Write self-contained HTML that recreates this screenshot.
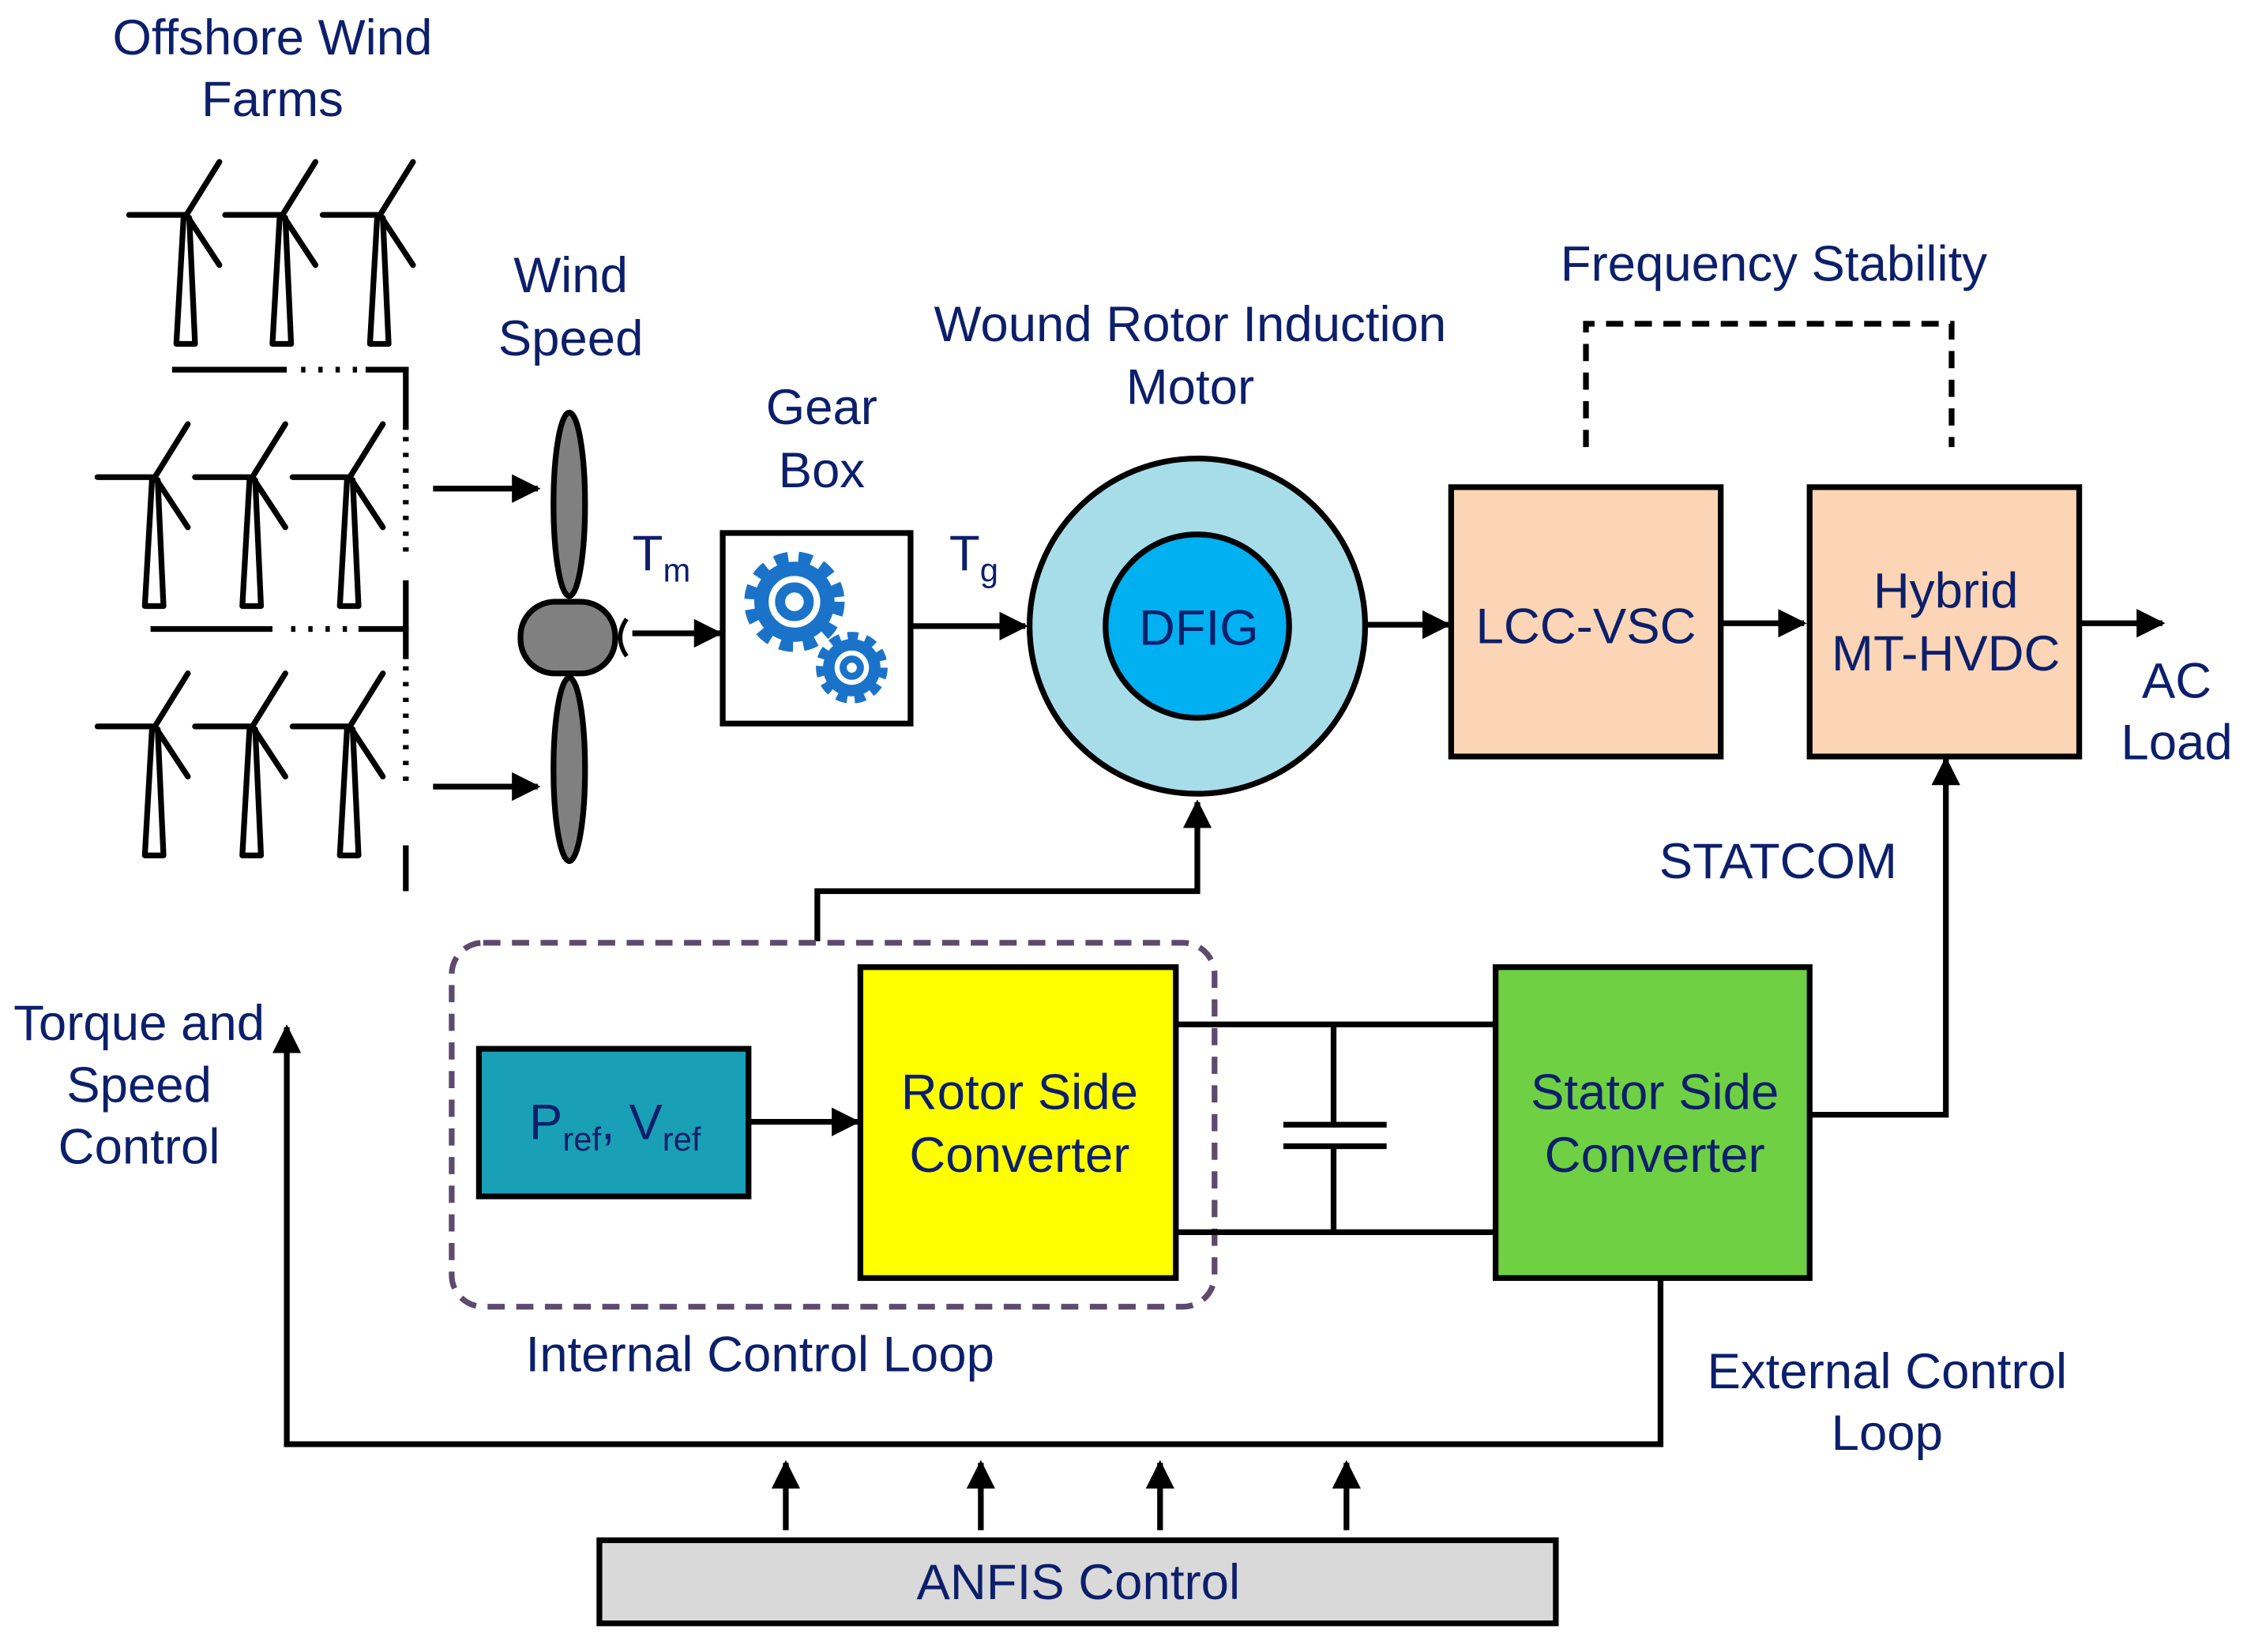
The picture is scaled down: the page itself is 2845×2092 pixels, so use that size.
<!DOCTYPE html>
<html><head><meta charset="utf-8"><style>
html,body{margin:0;padding:0;background:#fff;}
svg{display:block;}
text{font-family:"Liberation Sans",Arial,sans-serif;fill:#0c1f6b;}
</style></head><body>
<svg width="2845" height="2092" viewBox="0 0 1567 1153" preserveAspectRatio="none" xmlns="http://www.w3.org/2000/svg">
<defs>
<marker id="ar" viewBox="0 0 10 10" refX="9" refY="5" markerWidth="5" markerHeight="5" orient="auto-start-reverse"><path d="M0,0L10,5L0,10z" fill="#000"/></marker>
<g id="tb" stroke="#000" stroke-width="4" fill="none" stroke-linecap="round" stroke-linejoin="round">
<line x1="0" y1="0" x2="23" y2="-37"/><line x1="0" y1="0" x2="-40" y2="0"/><line x1="0" y1="0" x2="23" y2="35"/>
<path d="M-2,2L2,2L6,90L-7,90Z" fill="#fff"/>
</g>
</defs>
<rect width="1567" height="1153" fill="#fff"/>
<use href="#tb" x="130" y="150"/><use href="#tb" x="197" y="150"/><use href="#tb" x="265" y="150"/>
<use href="#tb" x="108" y="333"/><use href="#tb" x="176" y="333"/><use href="#tb" x="244" y="333"/>
<use href="#tb" x="108" y="507"/><use href="#tb" x="176" y="507"/><use href="#tb" x="244" y="507"/>
<g stroke="#000" stroke-width="4" fill="none">
<line x1="120" y1="258" x2="200" y2="258"/><line x1="255" y1="258" x2="285" y2="258"/>
<line x1="210" y1="258" x2="250" y2="258" stroke-dasharray="3,9"/>
<line x1="105" y1="439" x2="190" y2="439"/><line x1="250" y1="439" x2="285" y2="439"/>
<line x1="203" y1="439" x2="243" y2="439" stroke-dasharray="3,9"/>
<line x1="283" y1="256" x2="283" y2="300"/><line x1="283" y1="305" x2="283" y2="385" stroke-dasharray="3,8"/>
<line x1="283" y1="405" x2="283" y2="460"/><line x1="283" y1="465" x2="283" y2="545" stroke-dasharray="3,8"/>
<line x1="283" y1="590" x2="283" y2="622"/>
<line x1="302" y1="341" x2="375" y2="341" marker-end="url(#ar)"/>
<line x1="302" y1="549" x2="375" y2="549" marker-end="url(#ar)"/>
</g>
<g stroke="#000" stroke-width="4" fill="#808080">
<ellipse cx="397" cy="352" rx="11" ry="64"/><ellipse cx="397" cy="537" rx="11" ry="64"/>
<rect x="363" y="420" width="66" height="50" rx="24"/>
</g>
<path d="M437,432 Q428,445 437,458" stroke="#000" stroke-width="3" fill="none"/>
<line x1="441" y1="442" x2="502" y2="442" stroke="#000" stroke-width="4" marker-end="url(#ar)"/>
<rect x="504" y="372" width="131" height="133" fill="#fff" stroke="#000" stroke-width="4"/>
<circle cx="554" cy="420" r="30" fill="none" stroke="#1a73c8" stroke-width="10" stroke-dasharray="9,7"/>
<circle cx="554" cy="420" r="23" fill="none" stroke="#1a73c8" stroke-width="10"/>
<circle cx="554" cy="420" r="10" fill="none" stroke="#1a73c8" stroke-width="7"/>
<circle cx="594" cy="466" r="21" fill="none" stroke="#1a73c8" stroke-width="8" stroke-dasharray="7,5"/>
<circle cx="594" cy="466" r="16" fill="none" stroke="#1a73c8" stroke-width="8"/>
<circle cx="594" cy="466" r="6" fill="none" stroke="#1a73c8" stroke-width="5"/>
<line x1="635" y1="437" x2="715" y2="437" stroke="#000" stroke-width="4" marker-end="url(#ar)"/>
<circle cx="835" cy="437" r="117" fill="#a6dde8" stroke="#000" stroke-width="4"/>
<circle cx="835" cy="437" r="64" fill="#00b0f0" stroke="#000" stroke-width="4"/>
<text x="836" y="450" font-size="35" text-anchor="middle">DFIG</text>
<line x1="953" y1="436" x2="1010" y2="436" stroke="#000" stroke-width="4" marker-end="url(#ar)"/>
<rect x="1012" y="340" width="188" height="188" fill="#fbd5b5" stroke="#000" stroke-width="4"/>
<text x="1106" y="449" font-size="35" text-anchor="middle">LCC-VSC</text>
<line x1="1200" y1="435" x2="1258" y2="435" stroke="#000" stroke-width="4" marker-end="url(#ar)"/>
<rect x="1262" y="340" width="188" height="188" fill="#fbd5b5" stroke="#000" stroke-width="4"/>
<text x="1357" y="424" font-size="35" text-anchor="middle">Hybrid</text>
<text x="1357" y="468" font-size="35" text-anchor="middle">MT-HVDC</text>
<line x1="1450" y1="435" x2="1508" y2="435" stroke="#000" stroke-width="4" marker-end="url(#ar)"/>
<path d="M1106,312V226H1361V312" fill="none" stroke="#000" stroke-width="4" stroke-dasharray="12,8"/>
<path d="M570,657V622H835V560" fill="none" stroke="#000" stroke-width="4" marker-end="url(#ar)"/>
<rect x="315" y="658" width="532" height="254" rx="22" fill="none" stroke="#5e4a6e" stroke-width="4" stroke-dasharray="12,8"/>
<rect x="334" y="732" width="188" height="103" fill="#1aa0b6" stroke="#000" stroke-width="4"/>
<text x="369" y="795" font-size="35">P<tspan font-size="23" dy="8">ref</tspan><tspan dy="-8">, V</tspan><tspan font-size="23" dy="8">ref</tspan></text>
<line x1="522" y1="783" x2="598" y2="783" stroke="#000" stroke-width="4" marker-end="url(#ar)"/>
<rect x="600" y="675" width="220" height="217" fill="#ffff00" stroke="#000" stroke-width="4"/>
<text x="711" y="774" font-size="35" text-anchor="middle">Rotor Side</text>
<text x="711" y="818" font-size="35" text-anchor="middle">Converter</text>
<g stroke="#000" stroke-width="4" fill="none">
<line x1="820" y1="715" x2="1043" y2="715"/><line x1="820" y1="860" x2="1043" y2="860"/>
<line x1="930" y1="715" x2="930" y2="785"/><line x1="930" y1="800" x2="930" y2="860"/>
<line x1="895" y1="785" x2="967" y2="785"/><line x1="895" y1="800" x2="967" y2="800"/>
<path d="M1262,778H1357V530" marker-end="url(#ar)"/>
<path d="M1158,892V1008H200V717" marker-end="url(#ar)"/>
<line x1="548" y1="1068" x2="548" y2="1021" marker-end="url(#ar)"/>
<line x1="684" y1="1068" x2="684" y2="1021" marker-end="url(#ar)"/>
<line x1="809" y1="1068" x2="809" y2="1021" marker-end="url(#ar)"/>
<line x1="939" y1="1068" x2="939" y2="1021" marker-end="url(#ar)"/>
</g>
<rect x="1043" y="675" width="219" height="217" fill="#70d044" stroke="#000" stroke-width="4"/>
<text x="1154" y="774" font-size="35" text-anchor="middle">Stator Side</text>
<text x="1154" y="818" font-size="35" text-anchor="middle">Converter</text>
<rect x="418" y="1075" width="667" height="58" fill="#d9d9d9" stroke="#000" stroke-width="4"/>
<text x="752" y="1116" font-size="35" text-anchor="middle">ANFIS Control</text>
<g font-size="35" text-anchor="middle">
<text x="190" y="38">Offshore Wind</text><text x="190" y="81">Farms</text>
<text x="398" y="204">Wind</text><text x="398" y="248">Speed</text>
<text x="573" y="296">Gear</text><text x="573" y="340">Box</text>
<text x="830" y="238">Wound Rotor Induction</text><text x="830" y="282">Motor</text>
<text x="1237" y="196">Frequency Stability</text>
<text x="1518" y="487">AC</text><text x="1518" y="530">Load</text>
<text x="1240" y="613">STATCOM</text>
<text x="97" y="726">Torque and</text><text x="97" y="769">Speed</text><text x="97" y="812">Control</text>
<text x="530" y="957">Internal Control Loop</text>
<text x="1316" y="969">External Control</text><text x="1316" y="1012">Loop</text>
</g>
<text x="441" y="398" font-size="35">T<tspan font-size="23" dy="8">m</tspan></text>
<text x="662" y="398" font-size="35">T<tspan font-size="23" dy="8">g</tspan></text>
</svg>
</body></html>
